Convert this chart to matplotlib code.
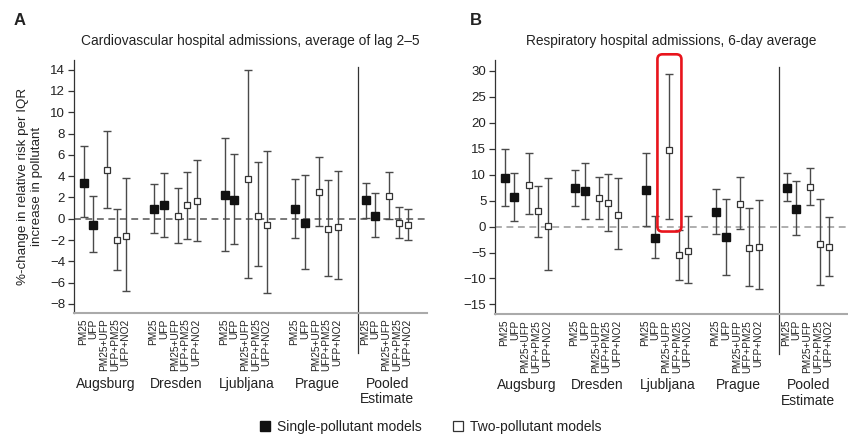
import numpy as np
import matplotlib.pyplot as plt
from matplotlib.lines import Line2D
from matplotlib.patches import FancyBboxPatch
from matplotlib.transforms import IdentityTransform, blended_transform_factory

plt.rcParams['font.family'] = ['Liberation Sans', 'DejaVu Sans']
plt.rcParams['text.color'] = '#222222'
plt.rcParams['axes.labelcolor'] = '#222222'
plt.rcParams['xtick.color'] = '#222222'
plt.rcParams['ytick.color'] = '#222222'

cities = ['Augsburg', 'Dresden', 'Ljubljana', 'Prague', 'Pooled\nEstimate']
models = ['PM25', 'UFP', 'PM25+UFP', 'UFP+PM25', 'UFP+NO2']
single = [True, True, False, False, False]

# cardiovascular admissions, average of lag 2-5 (estimate, lower, upper)
cv_est = [[3.4, -0.6, 4.6, -2.0, -1.6],
          [0.9, 1.3, 0.3, 1.25, 1.7],
          [2.2, 1.8, 3.7, 0.3, -0.6],
          [0.9, -0.4, 2.5, -1.0, -0.75],
          [1.75, 0.3, 2.15, -0.4, -0.55]]
cv_lo = [[0.2, -3.1, 1.0, -4.8, -6.8],
         [-1.3, -1.7, -2.25, -1.9, -2.1],
         [-3.0, -2.4, -5.6, -4.4, -7.0],
         [-1.85, -4.7, -0.65, -5.4, -5.7],
         [0.1, -1.75, -0.05, -1.85, -2.0]]
cv_hi = [[6.8, 2.1, 8.2, 0.9, 3.8],
         [3.3, 4.3, 2.9, 4.4, 5.5],
         [7.6, 6.1, 14.0, 5.3, 6.4],
         [3.75, 4.1, 5.8, 3.65, 4.5],
         [3.4, 2.4, 4.4, 1.1, 0.9]]

# respiratory admissions, 6-day average
rs_est = [[9.4, 5.8, 8.0, 2.95, 0.05],
          [7.4, 6.9, 5.6, 4.55, 2.25],
          [7.0, -2.25, 14.7, -5.45, -4.7],
          [2.8, -2.1, 4.4, -4.2, -3.85],
          [7.5, 3.35, 7.65, -3.3, -4.0]]
rs_lo = [[4.0, 1.15, 2.4, -2.0, -8.3],
         [4.0, 1.4, 1.55, -0.9, -4.3],
         [0.1, -6.1, 1.55, -10.3, -10.9],
         [-1.4, -9.25, -0.5, -11.5, -12.1],
         [4.95, -1.6, 4.2, -11.2, -9.6]]
rs_hi = [[14.9, 10.4, 14.2, 7.9, 9.3],
         [11.0, 12.3, 9.55, 10.1, 9.3],
         [14.2, 2.05, 29.4, -0.6, 2.05],
         [7.25, 5.3, 9.6, 3.6, 5.2],
         [10.3, 8.8, 11.2, 5.3, 1.9]]

# x layout: markers within a group, label slots, group spacing
offs = np.array([0, 1, 2.5, 3.5, 4.5])
lab_offs = np.linspace(-0.07, 4.42, 5)
step = 7.42

fig = plt.figure(figsize=(8.48, 4.41), dpi=100)
axA = fig.add_axes([0.0873, 0.2902, 0.4163, 0.5737])
axB = fig.add_axes([0.5841, 0.2873, 0.4159, 0.5766])


def panel(ax, est, lo, hi, ylim, yticks, zcol):
    est, lo, hi = np.array(est), np.array(lo), np.array(hi)
    xs, xl = [], []
    for g in range(len(cities)):
        x = g * step + offs
        ax.errorbar(x, est[g], yerr=[est[g] - lo[g], hi[g] - est[g]], fmt='none',
                    ecolor='#4a4a4a', elinewidth=1.0, capsize=3.2, capthick=1.0, zorder=2)
        for i in range(5):
            if single[i]:
                ax.plot(x[i], est[g][i], 's', color='#111111', ms=5.2, zorder=4)
            else:
                ax.plot(x[i], est[g][i], 's', mfc='white', mec='#333333', mew=0.9,
                        ms=5, zorder=4)
        xs.append(x)
        xl.append(g * step + lab_offs)
    ax.axhline(0, color=zcol, lw=1.1, ls=(0, (4.5, 3)), zorder=1)
    sep = (len(cities) - 1) * step - 0.75
    ax.axvline(sep, ymin=-0.158, ymax=0.974, color='#333333', lw=0.9, clip_on=False)
    ax.set_xlim(-1.0, 36.15)
    ax.set_ylim(*ylim)
    ax.set_yticks(yticks)
    ax.set_xticks(np.concatenate(xl))
    ax.set_xticklabels(models * len(cities), rotation=90, fontsize=7.3)
    ax.tick_params(axis='x', length=0, pad=4)
    ax.tick_params(axis='y', length=4, width=0.9, pad=2.5, labelsize=9.5, color='#333333')
    for s in ['top', 'right']:
        ax.spines[s].set_visible(False)
    ax.spines['left'].set_color('#333333')
    ax.spines['left'].set_linewidth(0.9)
    ax.spines['bottom'].set_color('#aaaaaa')
    ax.spines['bottom'].set_linewidth(1.5)
    tr = blended_transform_factory(ax.transData, ax.transAxes)
    for g, name in enumerate(cities):
        ax.text(g * step + offs.mean(), -0.252, name, transform=tr, ha='center',
                va='top', fontsize=10, linespacing=1.15)
    return xs


panel(axA, cv_est, cv_lo, cv_hi, (-8.85, 14.9), np.arange(-8, 15, 2), '#555555')
xsB = panel(axB, rs_est, rs_lo, rs_hi, (-16.9, 32.1), np.arange(-15, 31, 5), '#999999')

axA.set_title('Cardiovascular hospital admissions, average of lag 2\u20135', fontsize=9.9, pad=11)
axB.set_title('Respiratory hospital admissions, 6-day average', fontsize=9.9, pad=11)
axA.text(-0.125, 0.5, '%-change in relative risk per IQR\nincrease in pollutant',
         transform=axA.transAxes, rotation=90, ha='center', va='center',
         fontsize=9.6, linespacing=1.2)

fig.text(0.0155, 0.953, 'A', fontsize=12, fontweight='bold', va='center')
fig.text(0.554, 0.953, 'B', fontsize=12, fontweight='bold', va='center')

# highlight Ljubljana PM25+UFP in respiratory panel
hx = xsB[2][2]
x0, y0 = axB.transData.transform((hx, rs_lo[2][2] - 2.5))
x1, y1 = axB.transData.transform((hx, rs_hi[2][2] + 3.8))
box = FancyBboxPatch((x0 - 12, y0), 24, y1 - y0,
                     boxstyle='round,pad=0,rounding_size=5', transform=IdentityTransform(),
                     fill=False, ec='#e8141c', lw=1.9, zorder=10)
fig.add_artist(box)

handles = [Line2D([], [], marker='s', ls='none', color='#111111', ms=7.5),
           Line2D([], [], marker='s', ls='none', mfc='white', mec='#333333', mew=0.9, ms=7.5)]
fig.legend(handles, ['Single-pollutant models', 'Two-pollutant models'], loc='lower center',
           bbox_to_anchor=(0.506, -0.012), ncol=2, frameon=False, fontsize=10,
           handletextpad=0.3, columnspacing=2.0, handlelength=1.2)

fig.savefig('out.png', dpi=100)
